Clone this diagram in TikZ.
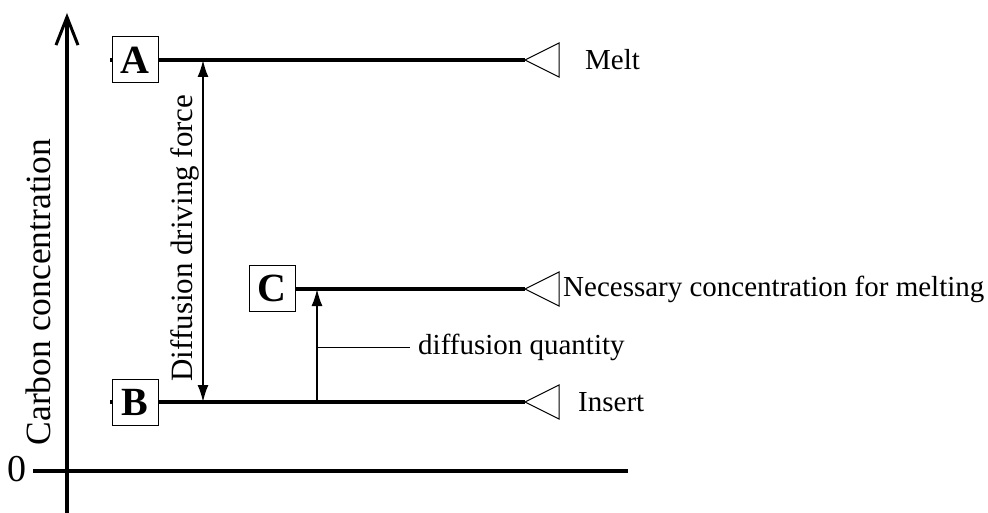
\documentclass[tikz,border=0pt]{standalone}
\usepackage{fontspec}
\setmainfont{Liberation Serif}
\usetikzlibrary{arrows.meta}
\begin{document}
\begin{tikzpicture}[x=1pt,y=-1pt,
  lbl/.style={font=\fontsize{29}{34}\selectfont, inner sep=0pt},
  vlbl/.style={font=\fontsize{31}{36}\selectfont, inner sep=0pt, rotate=90},
  box/.style={draw, line width=1pt, fill=white, minimum width=46pt, minimum height=46pt, inner sep=0pt, font=\fontsize{40}{44}\selectfont\bfseries},
  level/.style={line width=3.5pt},
  tri/.style={draw, line width=1pt, line join=miter},
  axisline/.style={line width=3.5pt},
  thin/.style={line width=1pt},
  shaft/.style={line width=1.8pt}]
\useasboundingbox (0,0) rectangle (988,513);

% axes
\coordinate (ybot) at (67,513);
\coordinate (ytop) at (67,13);
\draw[axisline, -{Straight Barb[length=28pt,width=22pt,line width=3pt]}] (ybot) -- (ytop);
\coordinate (xl) at (33,471);
\coordinate (xr) at (628,471);
\draw[axisline] (xl) -- (xr);
\node[inner sep=0pt, font=\fontsize{38}{44}\selectfont] (zero) at (17,469) {0};
\node[vlbl, font=\fontsize{35.5}{40}\selectfont] (ylab) at (38,292) {Carbon concentration};

% boxes
\node[box] (A) at (135,60) {A};
\node[box] (B) at (135,402) {B};
\node[box] (C) at (272,288) {C};

% level ends (triangle tips)
\coordinate (mA) at (525,60);
\coordinate (mB) at (525,402);
\coordinate (mC) at (525,289);

\draw[level] (A.east) -- (mA);
\draw[level] (B.east) -- (mB);
\draw[level] (C.east |- mC) -- (mC);
\draw[level] (A.west) -- ++(-2,0);
\draw[level] (B.west) -- ++(-2,0);

\draw[tri] (mA) -- ++(34,-17) -- ++(0,34) -- cycle;
\draw[tri] (mB) -- ++(34,-17) -- ++(0,34) -- cycle;
\draw[tri] (mC) -- ++(34,-17) -- ++(0,34) -- cycle;

\node[lbl, anchor=west] (melt) at (585,60) {Melt};
\node[lbl, anchor=west] (insert) at (578,402) {Insert};
\node[lbl, anchor=west] (nec) at (563,289) {Necessary concentration for melting};

% diffusion driving force
\coordinate (dfA) at (203,60);
\coordinate (dfB) at (203,402);
\draw[shaft, {Latex[length=17pt,width=11pt]}-{Latex[length=17pt,width=11pt]}] (dfA) -- (dfB);
\node[vlbl] (dflab) at (185,238) {Diffusion driving force};

% diffusion quantity
\coordinate (dqB) at (317,402);
\coordinate (dqC) at (317,289);
\draw[shaft, -{Latex[length=17pt,width=11pt]}] (dqB) -- (dqC);
\coordinate (ld0) at (317,347);
\coordinate (ld1) at (410,347);
\draw[thin] (ld0) -- (ld1);
\node[lbl, anchor=west] (dq) at (418,347) {diffusion quantity};
\end{tikzpicture}
\end{document}
